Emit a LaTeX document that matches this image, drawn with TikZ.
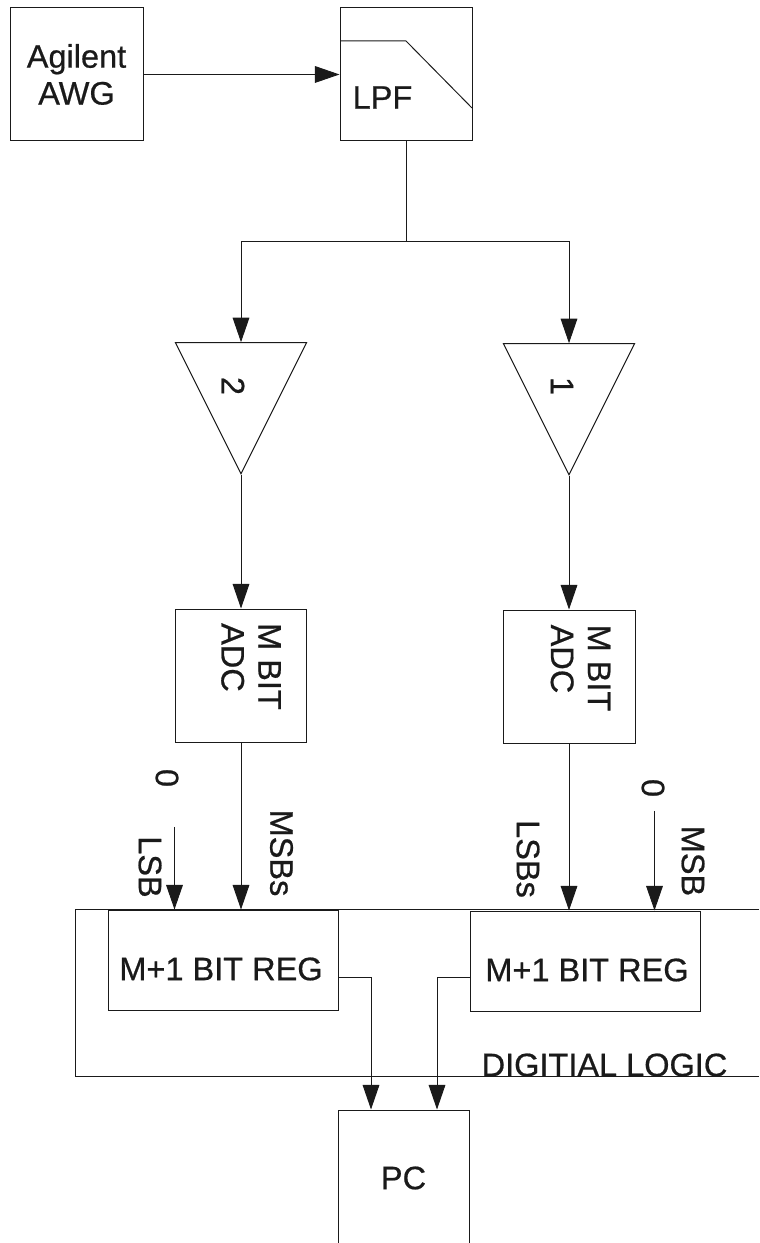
\documentclass[tikz,border=0pt]{standalone}
\usepackage{fontspec}
\setmainfont[FakeBold=0.6]{Liberation Sans}
\usepackage{xcolor}
\usetikzlibrary{arrows.meta,positioning,calc,shapes.geometric}
\definecolor{ink}{HTML}{1A1A1A}
\tikzset{
  >={Triangle[length=14pt,width=9.5pt]},
  every node/.style={font=\fontsize{18.5}{21}\selectfont,text=ink},
  block/.style={draw=ink,line width=0.55pt,inner sep=0pt,align=center},
  squarebox/.style={block,minimum width=26.4mm,minimum height=26.6mm},
  regbox/.style={block,minimum width=46mm,minimum height=20mm},
  amp/.style={draw=ink,line width=0.55pt,isosceles triangle,shape border rotate=-90,isosceles triangle stretches,minimum width=26.2mm,minimum height=26.2mm,inner sep=0pt,anchor=apex},
  vtext/.style={rotate=-90,inner sep=0pt,align=left},
  arrow/.style={->,draw=ink,line width=0.55pt},
  wire/.style={draw=ink,line width=0.55pt}
}
\begin{document}
\begin{tikzpicture}[x=1cm,y=1cm]
  \useasboundingbox (0,0) rectangle (15.18,24.86);

  \coordinate (logicTR) at (15.18,6.67);
  \coordinate (logicTL) at (1.5,6.67);
  \coordinate (logicBL) at (1.5,3.34);
  \coordinate (logicBR) at (15.18,3.34);
  \draw[wire] (logicTR)--(logicTL)--(logicBL)--(logicBR);

  \node[squarebox,minimum width=26.6mm] (awg) at (1.53,23.37) {Agilent\\AWG};
  \node[squarebox] (lpf) at (8.12,23.37) {};
  \node[inner sep=0pt] (lpfText) at (7.65,22.91) {LPF};
  \coordinate (rollA) at (6.8,24.04);
  \coordinate (rollB) at (8.12,24.04);
  \coordinate (rollC) at (9.44,22.7);
  \draw[wire] (rollA)--(rollB)--(rollC);
  \coordinate (split) at (8.12,20.03);

  \node[amp] (amp2) at (4.82,15.36) {};
  \node[amp] (amp1) at (11.38,15.34) {};
  \node[vtext] (amp2Text) at (4.66,17.14) {2};
  \node[vtext] (amp1Text) at (11.24,17.14) {1};

  \node[squarebox,minimum width=26.2mm] (adc2) at (4.82,11.35) {};
  \node[squarebox] (adc1) at (11.38,11.33) {};
  \node[vtext] (adc2Text) at (5.02,11.53) {M BIT\\ADC};
  \node[vtext] (adc1Text) at (11.61,11.50) {M BIT\\ADC};

  \node[regbox] (reg2) at (4.46,5.66) {};
  \node[regbox] (reg1) at (11.70,5.64) {};
  \node[inner sep=0pt] (reg2Text) at (4.42,5.48) {M+1 BIT REG};
  \node[inner sep=0pt] (reg1Text) at (11.74,5.46) {M+1 BIT REG};
  \node[inner sep=0pt] (logicText) at (12.09,3.56) {DIGITIAL LOGIC};

  \node[block,minimum width=26.2mm,minimum height=27.2mm] (pc) at (8.07,1.30) {PC};

  \coordinate (zero2) at (3.49,8.32);
  \coordinate (zero1) at (13.09,8.64);
  \node[vtext] (zero2Text) at (3.34,9.30) {0};
  \node[vtext] (lsb2Text) at (3.0,7.52) {LSB};
  \node[vtext] (msb2Text) at (5.63,7.80) {MSBs};
  \node[vtext] (lsb1Text) at (10.56,7.68) {LSBs};
  \node[vtext] (zero1Text) at (13.06,9.10) {0};
  \node[vtext] (msb1Text) at (13.86,7.64) {MSB};

  \draw[arrow] (awg)--(lpf);
  \draw[wire] (lpf.south)--(split);
  \draw[arrow] (split)-|(amp2.north);
  \draw[arrow] (split)-|(amp1.north);
  \draw[arrow] (amp2.apex)--(adc2.north);
  \draw[arrow] (amp1.apex)--(adc1.north);
  \draw[arrow] (adc2.south)--(adc2.south|-reg2.north);
  \draw[arrow] (adc1.south)--(adc1.south|-reg1.north);
  \draw[arrow] (zero2)--(zero2|-reg2.north);
  \draw[arrow] (zero1)--(zero1|-reg1.north);
  \draw[arrow] ([yshift=-3.4mm]reg2.east)-|([xshift=-6.5mm]pc.north);
  \draw[arrow] ([yshift=-3.2mm]reg1.west)-|([xshift=6.7mm]pc.north);
\end{tikzpicture}
\end{document}
